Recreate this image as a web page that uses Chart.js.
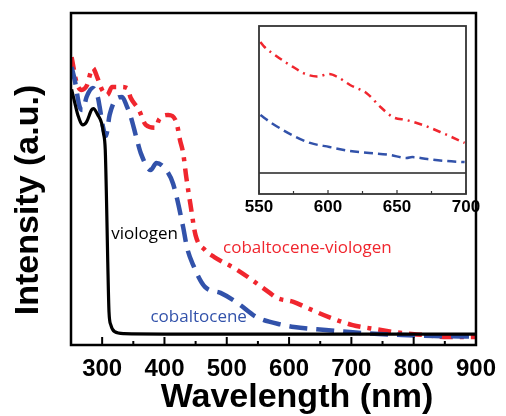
<!DOCTYPE html>
<html>
<head>
<meta charset="utf-8">
<script src="https://cdn.jsdelivr.net/npm/chart.js@4.4.1/dist/chart.umd.min.js"></script>
<style>
  html, body { margin: 0; padding: 0; background: #fff; }
  #wrap { position: relative; width: 506px; height: 416px; }
  #mainChart { position: absolute; left: 0; top: 0; }
  #insetChart { position: absolute; left: 240px; top: 16px; }
</style>
</head>
<body>
<div id="wrap">
  <canvas id="mainChart" width="506" height="416"></canvas>
  <canvas id="insetChart" width="250" height="204"></canvas>
</div>
<script>
// main spectra (wavelength nm, intensity a.u. on a 0-100 scale)
const violoNm  = [251, 256, 261, 269, 275, 283, 286, 293, 299, 302, 305, 307, 309, 311, 314, 320, 335, 400, 500, 600, 700, 800, 900];
const violoVal = [77, 73, 69.3, 66.3, 67.2, 70.8, 71.2, 69.3, 66.9, 63.9, 58.7, 43.7, 25, 10, 6, 4, 3.4, 3.3, 3.3, 3.3, 3.3, 3.3, 3.3];

const cobNm  = [251, 256, 264, 269, 275, 285, 293, 296, 301, 306, 312, 324, 332, 340, 346, 356, 362, 378, 387, 406, 414, 430, 436, 446, 465, 490, 517, 548, 591, 608, 659, 717, 781, 833, 900];
const cobVal = [83.7, 79.8, 71.7, 70.8, 74.7, 77.4, 74.7, 71.7, 66, 63, 69.3, 74.4, 74.7, 71.7, 68.7, 61.7, 57.8, 52.7, 54.8, 51.8, 48.5, 35.5, 29.5, 24.1, 17.5, 15.7, 12.7, 8.4, 6, 5.4, 4.5, 3.6, 3, 2.7, 2.5];

const cvNm  = [251, 259, 267, 275, 285, 292, 300, 308, 316, 330, 340, 346, 359, 370, 386, 391, 406, 419, 425, 430, 435, 442, 450, 465, 480, 517, 569, 580, 607, 630, 664, 702, 738, 781, 817, 853, 900];
const cvVal = [86.7, 79, 76.8, 78, 83.4, 80.7, 76.8, 75.3, 77.7, 77.7, 77.4, 74.4, 70.8, 66.3, 65.4, 67.8, 69.3, 67.2, 61.7, 57.8, 50.6, 42, 33, 28.6, 26.5, 22.6, 15.7, 14.2, 13, 11.1, 8.4, 6, 4.8, 3.6, 3, 2.4, 2.4];

const xTicks = [300, 400, 500, 600, 700, 800, 900];
const xMinor = [350, 450, 550, 650, 750, 850];

// inset (550-700 nm zoom, own intensity scale)
const inCvNm   = [551, 554, 562, 570, 576, 582, 592, 601, 607, 616, 628, 638, 647, 657, 669, 683, 699];
const inCvVal  = [90.5, 87.5, 82.5, 78, 75, 72, 70, 71.4, 69.6, 64.9, 60, 51.8, 45.8, 44, 41, 36.3, 30.4];
const inCobNm  = [551, 559, 574, 587, 601, 616, 630, 645, 657, 661, 672, 686, 699];
const inCobVal = [47, 42.3, 35.1, 30.4, 28, 25.6, 24.4, 23.2, 21.4, 22, 20.8, 19.6, 19];
const inVioNm  = [550, 600, 650, 700];
const inVioVal = [12.5, 12.5, 12.5, 12.5];
const inTicks = [550, 600, 650, 700];
const inMinor = [575, 625, 675];

const RED = 'rgb(240, 38, 46)';
const BLUE = 'rgb(50, 82, 170)';

const pts = (xs, ys) => xs.map((x, i) => ({ x, y: ys[i] }));

// box around plot area + inward tick marks on the bottom axis
const framePlugin = {
  id: 'frame',
  afterDraw(chart, args, o) {
    const { ctx, chartArea: a } = chart;
    const sx = chart.scales.x;
    ctx.save();
    ctx.strokeStyle = o.color;
    ctx.lineWidth = o.width;
    ctx.strokeRect(a.left, a.top, a.right - a.left, a.bottom - a.top);
    ctx.lineWidth = o.tickWidth;
    const tick = (v, len) => {
      const x = sx.getPixelForValue(v);
      ctx.beginPath();
      ctx.moveTo(x, a.bottom);
      ctx.lineTo(x, a.bottom - len);
      ctx.stroke();
    };
    o.major.forEach(v => tick(v, o.majorLen));
    o.minor.forEach(v => tick(v, o.minorLen));
    ctx.restore();
  }
};

// axis titles (pixel placed) and curve labels (placed in data coords)
const textPlugin = {
  id: 'texts',
  afterDraw(chart, args, o) {
    const { ctx } = chart;
    ctx.save();
    (o.items || []).forEach(t => {
      let x = t.px, y = t.py;
      if (t.data) {
        x = chart.scales.x.getPixelForValue(t.data[0]);
        y = chart.scales.y.getPixelForValue(t.data[1]);
      }
      ctx.font = t.font;
      ctx.fillStyle = t.color;
      ctx.textAlign = t.align || 'left';
      ctx.textBaseline = 'alphabetic';
      ctx.save();
      ctx.translate(x, y);
      if (t.rotate) ctx.rotate(t.rotate);
      ctx.fillText(t.text, 0, 0);
      ctx.restore();
    });
    ctx.restore();
  }
};

Chart.register(framePlugin, textPlugin);

new Chart(document.getElementById('mainChart').getContext('2d'), {
  type: 'line',
  data: {
    datasets: [
      {
        label: 'viologen',
        data: pts(violoNm, violoVal),
        borderColor: '#000',
        borderWidth: 3.2,
        cubicInterpolationMode: 'monotone'
      },
      {
        label: 'cobaltocene',
        data: pts(cobNm, cobVal),
        borderColor: BLUE,
        borderWidth: 4.5,
        borderDash: [18, 9],
        cubicInterpolationMode: 'monotone'
      },
      {
        label: 'cobaltocene-viologen',
        data: pts(cvNm, cvVal),
        borderColor: RED,
        borderWidth: 4.5,
        borderDash: [13, 7, 4, 7],
        cubicInterpolationMode: 'monotone'
      }
    ]
  },
  options: {
    responsive: false,
    animation: false,
    devicePixelRatio: 1,
    layout: { padding: { top: 13, right: 22, left: 0, bottom: 0 } },
    elements: { point: { radius: 0 } },
    plugins: {
      legend: { display: false },
      tooltip: { enabled: false },
      frame: { color: '#000', width: 2.5, tickWidth: 2, major: xTicks, minor: xMinor, majorLen: 8, minorLen: 4 },
      texts: {
        items: [
          { text: 'Wavelength (nm)', px: 297, py: 407, align: 'center', font: 'bold 34px "Liberation Sans", Arial, sans-serif', color: '#000' },
          { text: 'Intensity (a.u.)', px: 38, py: 200, align: 'center', rotate: -Math.PI / 2, font: 'bold 34px "Liberation Sans", Arial, sans-serif', color: '#000' },
          { text: 'viologen', data: [314.5, 31.9], font: '17px "Open Sans", sans-serif', color: '#000' },
          { text: 'cobaltocene-viologen', data: [494, 27.7], font: '17px "Open Sans", sans-serif', color: RED },
          { text: 'cobaltocene', data: [377.5, 6.9], font: '17px "Open Sans", sans-serif', color: BLUE }
        ]
      }
    },
    scales: {
      x: {
        type: 'linear',
        min: 250,
        max: 900,
        afterBuildTicks: s => { s.ticks = xTicks.map(v => ({ value: v })); },
        afterFit: s => { s.height = 71; },
        grid: { display: false, drawTicks: false },
        border: { display: false },
        ticks: {
          padding: 10,
          maxRotation: 0,
          autoSkip: false,
          color: '#000',
          font: { family: '"Liberation Sans", Arial, sans-serif', size: 24, weight: 'bold' }
        }
      },
      y: {
        min: 0,
        max: 100,
        afterFit: s => { s.width = 71; },
        grid: { display: false, drawTicks: false },
        border: { display: false },
        ticks: { display: false }
      }
    }
  }
});

new Chart(document.getElementById('insetChart').getContext('2d'), {
  type: 'line',
  data: {
    datasets: [
      {
        label: 'viologen',
        data: pts(inVioNm, inVioVal),
        borderColor: '#222',
        borderWidth: 1.6
      },
      {
        label: 'cobaltocene',
        data: pts(inCobNm, inCobVal),
        borderColor: BLUE,
        borderWidth: 2.5,
        borderDash: [9, 5],
        cubicInterpolationMode: 'monotone'
      },
      {
        label: 'cobaltocene-viologen',
        data: pts(inCvNm, inCvVal),
        borderColor: RED,
        borderWidth: 2.5,
        borderDash: [8, 5, 2, 5],
        cubicInterpolationMode: 'monotone'
      }
    ]
  },
  options: {
    responsive: false,
    animation: false,
    devicePixelRatio: 1,
    layout: { padding: { top: 10, right: 24, left: 0, bottom: 0 } },
    elements: { point: { radius: 0 } },
    plugins: {
      legend: { display: false },
      tooltip: { enabled: false },
      frame: { color: '#333', width: 1.8, tickWidth: 1.2, major: inTicks, minor: inMinor, majorLen: 4, minorLen: 3 },
      texts: { items: [] }
    },
    scales: {
      x: {
        type: 'linear',
        min: 550,
        max: 700,
        afterBuildTicks: s => { s.ticks = inTicks.map(v => ({ value: v })); },
        afterFit: s => { s.height = 26; },
        grid: { display: false, drawTicks: false },
        border: { display: false },
        ticks: {
          padding: 3,
          maxRotation: 0,
          autoSkip: false,
          color: '#000',
          font: { family: '"Liberation Sans", Arial, sans-serif', size: 17, weight: 'bold' }
        }
      },
      y: {
        min: 0,
        max: 100,
        afterFit: s => { s.width = 19; },
        grid: { display: false, drawTicks: false },
        border: { display: false },
        ticks: { display: false }
      }
    }
  }
});
</script>
</body>
</html>
